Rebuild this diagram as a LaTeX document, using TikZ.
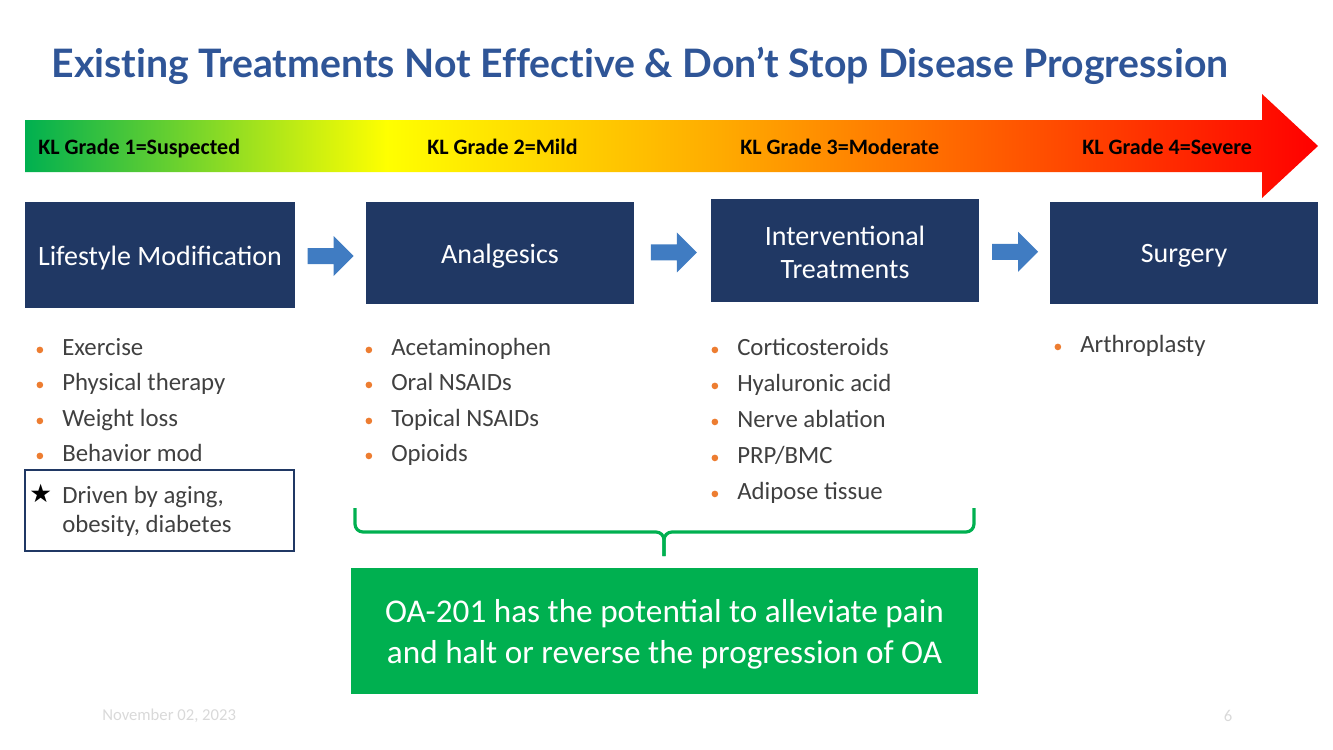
\documentclass[tikz,border=0pt]{standalone}
\usepackage{fontspec}
\setmainfont{Carlito}
\newfontfamily\titlefont[Ligatures=NoCommon]{Lato}
\newfontfamily\symfont{DejaVu Sans}
\usetikzlibrary{calc,fit,shapes.arrows}

\definecolor{titleblue}{RGB}{47,85,151}
\definecolor{navy}{RGB}{32,56,100}
\definecolor{arrowblue}{RGB}{64,124,194}
\definecolor{bulletorange}{RGB}{237,125,49}
\definecolor{itemgray}{RGB}{64,64,64}
\definecolor{oagreen}{RGB}{0,176,80}
\definecolor{footgray}{RGB}{217,217,217}
\definecolor{gradgreen}{RGB}{0,176,80}
\definecolor{gradorange}{RGB}{255,170,0}

\pgfdeclarehorizontalshading{klgrade}{100bp}{%
  color(0bp)=(gradgreen); color(25bp)=(gradgreen);
  color(39bp)=(yellow); color(52bp)=(gradorange);
  color(75bp)=(red); color(100bp)=(red)}

\begin{document}
\begin{tikzpicture}[x=0.75pt,y=-0.75pt,
    stagebox/.style={fill=navy,inner sep=0pt},
    stagetext/.style={text=white,align=center,yshift=-2.2pt,
      font=\fontsize{21}{24.5}\selectfont},
    flowarrow/.style={single arrow,fill=arrowblue,inner xsep=0pt,inner ysep=5.8pt,
      minimum height=34.5pt,single arrow head extend=9pt,single arrow tip angle=90},
    grade/.style={font=\fontsize{16.5}{20}\bfseries\selectfont,anchor=base west,inner sep=0pt},
    item/.style={anchor=west,inner sep=0pt,text=itemgray,text height=12pt,text depth=4pt,
      yshift=-2.2pt,font=\fontsize{18.6}{22}\selectfont,
      label={[circle,fill=bulletorange,inner sep=0pt,minimum size=5pt,
        label distance=13.9pt]left:{}}},
    brace/.style={oagreen,line width=2.4pt,rounded corners=6pt}]
  \useasboundingbox (0,0) rectangle (1333,749);

  % title
  \node[text=titleblue,font=\titlefont\fontsize{29.4}{32}\bfseries\selectfont,
    anchor=base] (title) at (640,77) {Existing Treatments Not Effective \& Don’t Stop Disease Progression};

  % KL grade arrow
  \shade[shading=klgrade] (25,120) -- (1262,120) -- (1262,94) -- (1318,146)
    -- (1262,198) -- (1262,172) -- (25,172) -- cycle;
  \node[grade] (kl1) at (38,154) {KL Grade 1=Suspected};
  \node[grade] (kl2) at (427,154) {KL Grade 2=Mild};
  \node[grade] (kl3) at (740,154) {KL Grade 3=Moderate};
  \node[grade] (kl4) at (1082,154) {KL Grade 4=Severe};

  % treatment stages
  \node[stagebox,fit={(25,202) (295,308)}] (lifestyle) {};
  \node[stagetext] at (lifestyle.center) (lifestyletxt) {Lifestyle Modification};
  \node[stagebox,fit={(366,202) (634,304)}] (analgesics) {};
  \node[stagetext] at (analgesics.center) (analgesicstxt) {Analgesics};
  \node[stagebox,fit={(711,199) (979,302)}] (interv) {};
  \node[stagetext] at ([yshift=1pt]interv.center) (intervtxt) {Interventional\\Treatments};
  \node[stagebox,fit={(1050,202) (1318,304)}] (surgery) {};
  \node[stagetext] at (surgery.center) (surgerytxt) {Surgery};

  \node[flowarrow] (arr1) at ([xshift=-3pt,yshift=-1.5pt]$(lifestyle.east)!0.5!(analgesics.west)$) {};
  \node[flowarrow] (arr2) at ([xshift=-2pt,yshift=-0.5pt]$(analgesics.east)!0.5!(interv.west)$) {};
  \node[flowarrow] (arr3) at ([xshift=-2.5pt]$(interv.east)!0.5!(surgery.west)$) {};

  % bullet lists
  \node[item] (exercise) at (62,347) {Exercise};
  \node[item] (physio) at (62,382) {Physical therapy};
  \node[item] (weight) at (62,418) {Weight loss};
  \node[item] (behavior) at (62,453) {Behavior mod};

  \node[item] (acet) at (391,347) {Acetaminophen};
  \node[item] (oral) at (391,382) {Oral NSAIDs};
  \node[item] (topical) at (391,418) {Topical NSAIDs};
  \node[item] (opioids) at (391,453) {Opioids};

  \node[item] (cortico) at (737,347) {Corticosteroids};
  \node[item] (hyal) at (737,383) {Hyaluronic acid};
  \node[item] (nerve) at (737,419) {Nerve ablation};
  \node[item] (prp) at (737,455) {PRP/BMC};
  \node[item] (adipose) at (737,491) {Adipose tissue};

  \node[item] (arthro) at (1080,344) {Arthroplasty};

  % drivers box
  \node[draw=navy,line width=0.9pt,inner sep=0pt,fit={(25,470) (294,551)}] (drivers) {};
  \node[anchor=west,inner sep=0pt,font=\symfont\fontsize{19}{20}\selectfont] (star) at (29,493) {★};
  \node[anchor=north west,inner sep=0pt,align=left,text=itemgray,
    font=\fontsize{18.6}{21.8}\selectfont] (driverstxt) at (62,486)
    {Driven by aging,\\obesity, diabetes};

  % brace and OA-201 box
  \coordinate (braceL) at (355,508);
  \coordinate (braceR) at (974,508);
  \coordinate (braceM) at (664,532);
  \coordinate (braceTip) at (664,556);
  \draw[brace] (braceL) |- (braceM) -- (braceTip);
  \draw[brace] (braceR) |- (braceM) -- (braceTip);

  \node[fill=oagreen,inner sep=0pt,fit={(351,568) (978,694)}] (oabox) {};
  \node at (oabox.center) [text=white,align=center,yshift=-2.6pt,
    font=\fontsize{24.9}{30.75}\selectfont] (oatxt)
    {OA-201 has the potential to alleviate pain\\and halt or reverse the progression of OA};

  % footer
  \node[anchor=west,inner sep=0pt,text=footgray,font=\fontsize{12.5}{14}\selectfont] (date) at (102,716) {November 02, 2023};
  \node[inner sep=0pt,text=footgray,font=\fontsize{12.5}{14}\selectfont] (pagenum) at (1228,716) {6};
\end{tikzpicture}
\end{document}
